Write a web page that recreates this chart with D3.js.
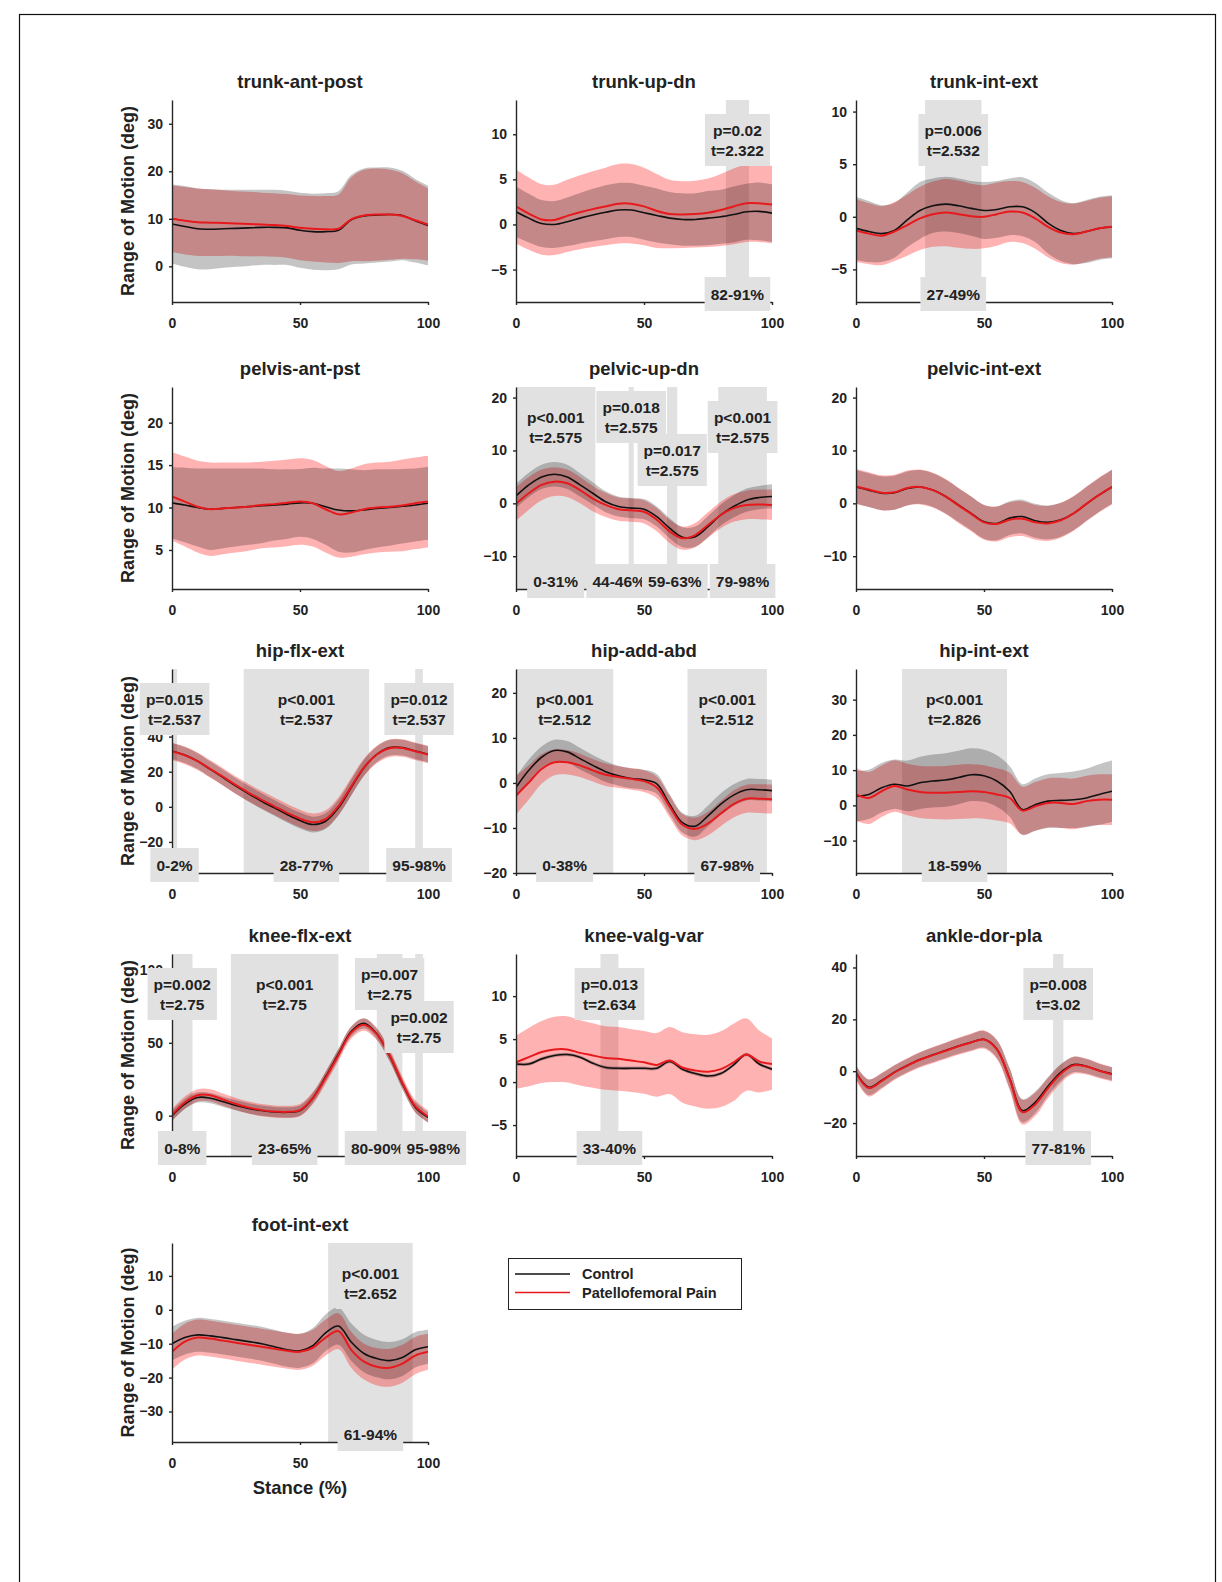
<!DOCTYPE html>
<html>
<head>
<meta charset="utf-8">
<script src="https://cdn.jsdelivr.net/npm/d3@7"></script>
<style>
body { margin: 0; background: #fff; }
svg text { font-family: "Liberation Sans", Arial, Helvetica, sans-serif; font-weight: bold; fill: #222; }
</style>
</head>
<body>
<script>
// stance (% of stance phase), sampled every 5%
var stance = [0,5,10,15,20,25,30,35,40,45,50,55,60,65,70,75,80,85,90,95,100];
var xTicks = [0, 50, 100];

// trunk-ant-post
var trunkApCtrl   = [8.9,8.4,7.9,7.8,7.9,8.0,8.1,8.2,8.2,8.1,7.6,7.3,7.3,7.6,9.8,10.6,10.8,10.9,10.7,9.6,8.6];
var trunkApCtrlSd = [8.3,8.5,8.5,8.4,8.2,8.1,8.0,7.9,7.9,7.8,7.9,8.0,8.1,8.2,9.4,10.0,10.0,9.9,9.4,8.8,8.4];
var trunkApPfp    = [10.0,9.6,9.3,9.2,9.1,9.0,8.9,8.8,8.7,8.5,8.1,7.9,7.8,7.9,9.9,10.7,10.9,10.9,10.6,9.7,8.8];
var trunkApPfpSd  = [7.0,7.1,7.1,7.0,6.9,6.8,6.8,6.7,6.7,6.7,6.8,6.9,7.0,7.2,8.8,9.6,9.7,9.5,9.0,8.2,7.6];

// trunk-up-dn
var trunkUdCtrl   = [1.4,0.7,0.1,0.0,0.3,0.7,1.05,1.35,1.6,1.6,1.3,1.0,0.7,0.55,0.55,0.7,0.85,1.1,1.4,1.45,1.25];
var trunkUdCtrlSd = [2.8,2.7,2.6,2.6,2.7,2.8,2.9,3.0,3.0,3.0,3.0,3.0,2.9,2.9,2.9,3.0,3.0,3.1,3.1,3.2,3.2];
var trunkUdPfp    = [2.0,1.2,0.55,0.5,0.95,1.35,1.7,2.0,2.3,2.3,2.0,1.5,1.15,1.1,1.15,1.3,1.6,2.0,2.35,2.35,2.2];
var trunkUdPfpSd  = [4.1,4.0,3.9,3.9,4.0,4.1,4.2,4.3,4.4,4.4,4.3,4.1,3.8,3.7,3.7,3.8,4.0,4.2,4.3,4.3,4.3];
var trunkUdSig = [{from: 82, to: 91, p: "p=0.02", t: "t=2.322"}];

// trunk-int-ext
var trunkIeCtrl   = [-1.1,-1.4,-1.6,-1.3,-0.3,0.6,1.05,1.2,1.05,0.8,0.6,0.7,0.95,0.95,0.4,-0.6,-1.3,-1.6,-1.4,-1.1,-0.95];
var trunkIeCtrlSd = [3.0,2.9,2.7,2.6,2.6,2.7,2.6,2.6,2.6,2.6,2.7,2.7,2.7,2.8,2.8,2.9,2.9,2.9,3.0,3.0,3.0];
var trunkIePfp    = [-1.3,-1.6,-1.8,-1.4,-0.8,-0.15,0.25,0.4,0.25,0.05,0.0,0.25,0.5,0.4,-0.15,-0.95,-1.5,-1.65,-1.4,-1.1,-0.95];
var trunkIePfpSd  = [3.0,2.9,2.8,2.8,2.9,3.0,3.1,3.2,3.2,3.1,3.0,3.0,2.9,2.9,2.9,2.9,2.9,2.9,2.9,2.9,2.9];
var trunkIeSig = [{from: 27, to: 49, p: "p=0.006", t: "t=2.532"}];

// pelvis-ant-pst
var pelvApCtrl   = [10.55,10.3,10.0,9.8,9.9,10.0,10.1,10.2,10.3,10.4,10.55,10.5,10.1,9.7,9.6,9.7,9.9,10.0,10.15,10.3,10.5];
var pelvApCtrlSd = [4.2,4.4,4.6,4.8,4.7,4.6,4.5,4.4,4.2,4.1,4.0,4.2,4.5,4.9,4.9,4.7,4.6,4.5,4.4,4.3,4.3];
var pelvApPfp    = [11.3,10.7,10.1,9.8,9.9,10.0,10.1,10.3,10.4,10.55,10.7,10.5,9.8,9.2,9.4,9.8,10.0,10.1,10.25,10.5,10.7];
var pelvApPfpSd  = [5.2,5.3,5.4,5.5,5.4,5.3,5.2,5.1,5.1,5.1,5.1,5.1,5.1,5.1,5.2,5.3,5.3,5.3,5.4,5.4,5.4];

// pelvic-up-dn
var pelvUdCtrl   = [1.4,3.5,5.0,5.5,5.0,3.5,1.9,0.3,-0.6,-0.9,-1.1,-2.5,-4.7,-6.4,-6.3,-4.4,-2.2,-0.6,0.6,1.1,1.3];
var pelvUdCtrlSd = [2.3,2.3,2.3,2.3,2.3,2.2,2.1,2.0,1.9,1.9,1.9,1.9,1.9,1.9,1.9,2.0,2.0,2.1,2.2,2.2,2.3];
var pelvUdPfp    = [-0.1,1.9,3.5,4.1,3.8,2.5,0.9,-0.3,-1.1,-1.3,-1.6,-3.1,-5.3,-6.6,-6.0,-4.1,-2.2,-0.9,-0.3,-0.2,-0.3];
var pelvUdPfpSd  = [3.2,3.1,2.9,2.7,2.6,2.5,2.4,2.3,2.2,2.2,2.2,2.2,2.2,2.2,2.3,2.4,2.5,2.6,2.7,2.8,2.9];
var pelvUdSig = [
  {from: 0, to: 31, p: "p<0.001", t: "t=2.575"},
  {from: 44, to: 46, p: "p=0.018", t: "t=2.575"},
  {from: 59, to: 63, p: "p=0.017", t: "t=2.575"},
  {from: 79, to: 98, p: "p<0.001", t: "t=2.575"}
];

// pelvic-int-ext
var pelvIeCtrl   = [3.1,2.5,1.9,2.0,2.8,3.1,2.5,1.3,-0.3,-1.9,-3.5,-3.8,-2.8,-2.5,-3.3,-3.6,-3.1,-1.9,-0.1,1.6,3.1];
var pelvIeCtrlSd = [3.2,3.2,3.2,3.2,3.2,3.2,3.2,3.2,3.2,3.2,3.2,3.2,3.2,3.2,3.2,3.2,3.2,3.2,3.2,3.2,3.2];
var pelvIePfp    = [3.2,2.6,2.0,2.1,2.9,3.1,2.5,1.3,-0.4,-2.0,-3.6,-3.9,-3.1,-2.9,-3.6,-3.8,-3.2,-1.9,-0.1,1.6,3.1];
var pelvIePfpSd  = [3.3,3.3,3.3,3.3,3.3,3.3,3.3,3.3,3.3,3.3,3.3,3.3,3.3,3.3,3.3,3.3,3.3,3.3,3.3,3.3,3.3];

// hip-flx-ext
var hipFeCtrl   = [31.8,29.5,26.0,21.3,16.6,11.8,7.4,3.2,-0.6,-4.4,-7.8,-10.1,-8.2,-0.6,10.9,22.3,29.9,33.7,33.7,31.8,29.9];
var hipFeCtrlSd = [4.5,4.5,4.5,4.5,4.5,4.5,4.5,4.5,4.5,4.5,4.5,4.5,4.5,4.5,4.5,4.5,4.5,4.5,4.5,4.5,4.5];
var hipFePfp    = [31.5,29.3,26.0,21.5,17.0,12.3,8.0,4.0,0.3,-3.4,-6.7,-8.8,-7.0,0.3,11.5,22.5,29.8,33.4,33.5,31.6,29.8];
var hipFePfpSd  = [5.0,5.0,5.0,5.0,5.0,5.0,5.0,5.0,5.0,5.0,5.0,5.0,5.0,5.0,5.0,5.0,5.0,5.0,5.0,5.0,5.0];
var hipFeSig = [
  {from: 0, to: 2, p: "p=0.015", t: "t=2.537"},
  {from: 28, to: 77, p: "p<0.001", t: "t=2.537"},
  {from: 95, to: 98, p: "p=0.012", t: "t=2.537"}
];

// hip-add-abd
var hipAaCtrl   = [-1.0,2.8,5.7,7.2,6.9,5.4,3.9,2.5,1.6,1.0,0.7,-0.2,-4.7,-8.8,-9.6,-7.3,-4.7,-2.7,-1.5,-1.5,-1.7];
var hipAaCtrlSd = [2.4,2.4,2.4,2.4,2.4,2.4,2.3,2.3,2.2,2.2,2.2,2.2,2.2,2.2,2.3,2.3,2.4,2.4,2.4,2.4,2.4];
var hipAaPfp    = [-2.8,0.1,3.1,4.6,4.6,3.9,2.8,1.8,1.3,0.9,0.4,-1.0,-5.2,-9.3,-10.2,-9.0,-6.8,-4.7,-3.5,-3.5,-3.6];
var hipAaPfpSd  = [4.3,3.8,3.3,2.9,2.7,2.6,2.5,2.5,2.4,2.4,2.4,2.4,2.4,2.4,2.5,2.6,2.8,3.0,3.1,3.2,3.2];
var hipAaSig = [
  {from: 0, to: 38, p: "p<0.001", t: "t=2.512"},
  {from: 67, to: 98, p: "p<0.001", t: "t=2.512"}
];

// hip-int-ext
var hipIeCtrl   = [2.6,3.1,5.0,6.0,5.5,6.4,6.9,7.2,7.9,8.7,8.4,6.9,4.0,-1.2,0.2,1.2,1.4,1.6,2.1,3.1,4.0];
var hipIeCtrlSd = [7.2,7.0,7.0,7.0,7.2,7.4,7.5,7.6,7.6,7.5,7.4,7.3,7.2,7.2,7.4,7.6,7.8,8.0,8.3,8.6,8.7];
var hipIePfp    = [3.1,2.1,4.0,5.5,4.5,3.8,3.6,3.6,3.8,4.0,3.8,3.1,2.1,-1.5,-0.3,0.7,0.7,0.4,1.2,1.6,1.6];
var hipIePfpSd  = [7.5,7.4,7.3,7.3,7.3,7.4,7.5,7.6,7.7,7.7,7.6,7.4,7.2,6.8,6.9,7.0,7.1,7.2,7.2,7.2,7.2];
var hipIeSig = [{from: 18, to: 59, p: "p<0.001", t: "t=2.826"}];

// knee-flx-ext
var kneeFeCtrl   = [0,8,12.5,12,9.5,7,5,3.5,2.5,2.3,3.5,12,26.7,42.4,57.8,63.4,56.2,41,21.9,5.8,-1.2];
var kneeFeCtrlSd = [3.5,3.5,3.5,3.5,3.5,3.5,3.5,3.5,3.5,3.5,3.5,3.5,3.5,3.5,3.5,3.5,3.5,3.5,3.5,3.5,3.5];
var kneeFePfp    = [0.5,9,14,14,11,8,5.5,3.8,2.8,2.6,3.8,12,26,41.5,57,62.5,56,41.5,22.5,6.5,-0.5];
var kneeFePfpSd  = [4.2,4.2,4.2,4.2,4.2,4.2,4.2,4.2,4.2,4.2,4.2,4.2,4.2,4.2,4.2,4.2,4.2,4.2,4.2,4.2,4.2];
var kneeFeSig = [
  {from: 0, to: 8, p: "p=0.002", t: "t=2.75"},
  {from: 23, to: 65, p: "p<0.001", t: "t=2.75"},
  {from: 80, to: 90, p: "p=0.007", t: "t=2.75"},
  {from: 95, to: 98, p: "p=0.002", t: "t=2.75"}
];

// knee-valg-var
var kneeVvCtrl   = [2.1,2.1,2.7,3.1,3.2,2.9,2.2,1.7,1.6,1.6,1.6,1.6,2.4,1.5,1.0,0.7,1.0,2.0,3.2,2.1,1.5];
var kneeVvCtrlSd = [0.2,0.2,0.2,0.2,0.2,0.2,0.2,0.2,0.2,0.2,0.2,0.2,0.2,0.2,0.2,0.2,0.2,0.2,0.2,0.2,0.2];
var kneeVvPfp    = [2.3,2.9,3.5,3.8,3.8,3.4,3.1,2.8,2.7,2.5,2.3,2.0,2.5,1.7,1.35,1.2,1.5,2.3,3.2,2.4,2.1];
var kneeVvPfpSd  = [3.1,3.4,3.6,3.8,3.85,3.8,3.75,3.7,3.7,3.65,3.65,3.7,3.9,4.1,4.2,4.3,4.4,4.5,4.2,3.6,3.0];
var kneeVvSig = [{from: 33, to: 40, p: "p=0.013", t: "t=2.634"}];

// ankle-dor-pla
var ankleCtrl   = [-0.4,-6.2,-3.6,-0.4,2.2,4.5,6.3,8.0,9.7,11.2,12.3,8.6,-2.7,-15.2,-12.0,-5.8,-0.4,2.6,1.9,0.3,-1.0];
var ankleCtrlSd = [2.5,3.0,2.8,2.6,2.6,2.7,2.8,2.9,3.0,3.1,3.2,3.4,3.9,4.5,4.2,3.6,3.2,3.0,2.8,2.6,2.5];
var anklePfp    = [-0.6,-6.5,-3.8,-0.5,2.1,4.4,6.2,7.9,9.6,11.1,12.2,8.4,-3.0,-15.8,-12.8,-6.5,-1.0,2.3,1.8,0.2,-1.2];
var anklePfpSd  = [2.8,3.3,3.1,2.9,2.9,3.0,3.1,3.2,3.3,3.4,3.5,3.7,4.2,4.8,4.5,3.9,3.5,3.3,3.1,2.9,2.8];
var ankleSig = [{from: 77, to: 81, p: "p=0.008", t: "t=3.02"}];

// foot-int-ext
var footCtrl   = [-10.0,-8.2,-7.4,-7.7,-8.2,-8.8,-9.4,-10.0,-10.9,-11.8,-12.1,-10.6,-6.8,-4.8,-9.5,-12.9,-14.4,-15.0,-14.1,-11.8,-10.9];
var footCtrlSd = [5.0,5.0,5.0,5.0,5.0,5.0,5.0,5.0,5.0,5.0,5.0,5.2,5.4,5.5,5.5,5.5,5.5,5.5,5.4,5.2,5.0];
var footPfp    = [-12.4,-9.4,-8.2,-8.5,-9.1,-9.7,-10.3,-10.9,-11.5,-12.1,-12.4,-11.2,-8.2,-6.3,-11.8,-15.3,-16.8,-17.1,-15.9,-13.5,-12.4];
var footPfpSd  = [5.3,5.3,5.3,5.3,5.3,5.3,5.3,5.3,5.3,5.3,5.3,5.3,5.3,5.3,5.3,5.3,5.5,5.6,5.6,5.5,5.3];
var footSig = [{from: 61, to: 94, p: "p<0.001", t: "t=2.652"}];

var groupNames = ["Control", "Patellofemoral Pain"];

var panels = [
  {name: "trunk-ant-post", ctrl: trunkApCtrl, ctrlSd: trunkApCtrlSd, pfp: trunkApPfp, pfpSd: trunkApPfpSd, yLim: [-7.5, 35], yTicks: [0, 10, 20, 30], sig: []},
  {name: "trunk-up-dn", ctrl: trunkUdCtrl, ctrlSd: trunkUdCtrlSd, pfp: trunkUdPfp, pfpSd: trunkUdPfpSd, yLim: [-8.6, 13.8], yTicks: [-5, 0, 5, 10], sig: trunkUdSig},
  {name: "trunk-int-ext", ctrl: trunkIeCtrl, ctrlSd: trunkIeCtrlSd, pfp: trunkIePfp, pfpSd: trunkIePfpSd, yLim: [-8.1, 11.1], yTicks: [-5, 0, 5, 10], sig: trunkIeSig},
  {name: "pelvis-ant-pst", ctrl: pelvApCtrl, ctrlSd: pelvApCtrlSd, pfp: pelvApPfp, pfpSd: pelvApPfpSd, yLim: [0.4, 24.2], yTicks: [5, 10, 15, 20], sig: []},
  {name: "pelvic-up-dn", ctrl: pelvUdCtrl, ctrlSd: pelvUdCtrlSd, pfp: pelvUdPfp, pfpSd: pelvUdPfpSd, yLim: [-16.2, 22], yTicks: [-10, 0, 10, 20], sig: pelvUdSig},
  {name: "pelvic-int-ext", ctrl: pelvIeCtrl, ctrlSd: pelvIeCtrlSd, pfp: pelvIePfp, pfpSd: pelvIePfpSd, yLim: [-16.2, 22], yTicks: [-10, 0, 10, 20], sig: []},
  {name: "hip-flx-ext", ctrl: hipFeCtrl, ctrlSd: hipFeCtrlSd, pfp: hipFePfp, pfpSd: hipFePfpSd, yLim: [-37.7, 78.5], yTicks: [-20, 0, 20, 40], sig: hipFeSig},
  {name: "hip-add-abd", ctrl: hipAaCtrl, ctrlSd: hipAaCtrlSd, pfp: hipAaPfp, pfpSd: hipAaPfpSd, yLim: [-20, 25.3], yTicks: [-20, -10, 0, 10, 20], sig: hipAaSig},
  {name: "hip-int-ext", ctrl: hipIeCtrl, ctrlSd: hipIeCtrlSd, pfp: hipIePfp, pfpSd: hipIePfpSd, yLim: [-19.2, 38.7], yTicks: [-10, 0, 10, 20, 30], sig: hipIeSig},
  {name: "knee-flx-ext", ctrl: kneeFeCtrl, ctrlSd: kneeFeCtrlSd, pfp: kneeFePfp, pfpSd: kneeFePfpSd, yLim: [-27.7, 111], yTicks: [0, 50, 100], sig: kneeFeSig},
  {name: "knee-valg-var", ctrl: kneeVvCtrl, ctrlSd: kneeVvCtrlSd, pfp: kneeVvPfp, pfpSd: kneeVvPfpSd, yLim: [-8.6, 14.9], yTicks: [-5, 0, 5, 10], sig: kneeVvSig},
  {name: "ankle-dor-pla", ctrl: ankleCtrl, ctrlSd: ankleCtrlSd, pfp: anklePfp, pfpSd: anklePfpSd, yLim: [-32.7, 45.2], yTicks: [-20, 0, 20, 40], sig: ankleSig},
  {name: "foot-int-ext", ctrl: footCtrl, ctrlSd: footCtrlSd, pfp: footPfp, pfpSd: footPfpSd, yLim: [-39, 19.7], yTicks: [-30, -20, -10, 0, 10], sig: footSig}
];

// layout (px)
var colX = [172, 516, 856], plotW = 256;
var rowTop = [100, 387, 669, 954, 1243];
var rowBot = [302, 589, 873, 1156, 1442];
var sigGray = "#e1e1e1";
var axisColor = "#262626";
var redCol = "#e8191c";

var svg = d3.select("body").append("svg")
    .attr("width", 1222)
    .attr("height", 1582);

svg.append("rect")
    .attr("width", 1222).attr("height", 1582).attr("fill", "#fff");

// frame round the figure
svg.append("rect")
    .attr("x", 19.5).attr("y", 14.5)
    .attr("width", 1196).attr("height", 1700)
    .attr("fill", "none").attr("stroke", "#111").attr("stroke-width", 1.2);

var defs = svg.append("defs");

panels.forEach(function(p, i) {
  var col = i % 3, row = Math.floor(i / 3);
  var top = rowTop[row], bot = rowBot[row];
  var x = d3.scaleLinear().domain([0, 100]).range([colX[col], colX[col] + plotW]);
  var y = d3.scaleLinear().domain(p.yLim).range([bot, top]);
  var g = svg.append("g").attr("class", "panel");

  defs.append("clipPath").attr("id", "clip" + i)
    .append("rect")
    .attr("x", x(0)).attr("y", top)
    .attr("width", plotW).attr("height", bot - top);

  // significant regions
  g.selectAll("rect.sig")
    .data(p.sig)
    .enter().append("rect")
    .attr("class", "sig")
    .attr("x", function(d) { return x(d.from); })
    .attr("width", function(d) { return x(d.to) - x(d.from); })
    .attr("y", top)
    .attr("height", bot - top)
    .attr("fill", sigGray);

  var plot = g.append("g").attr("clip-path", "url(#clip" + i + ")");

  function band(m, s) {
    return d3.area()
      .x(function(d, j) { return x(stance[j]); })
      .y0(function(d, j) { return y(m[j] - s[j]); })
      .y1(function(d, j) { return y(m[j] + s[j]); })
      .curve(d3.curveCatmullRom.alpha(0.5))(m);
  }
  var line = d3.line()
    .x(function(d, j) { return x(stance[j]); })
    .y(function(d) { return y(d); })
    .curve(d3.curveCatmullRom.alpha(0.5));

  plot.append("path").attr("d", band(p.pfp, p.pfpSd))
    .attr("fill", "#ff0000").attr("fill-opacity", 0.3);
  plot.append("path").attr("d", band(p.ctrl, p.ctrlSd))
    .attr("fill", "#000").attr("fill-opacity", 0.23);
  plot.append("path").datum(p.ctrl).attr("d", line)
    .attr("fill", "none").attr("stroke", "#111").attr("stroke-width", 1.6);
  plot.append("path").datum(p.pfp).attr("d", line)
    .attr("fill", "none").attr("stroke", redCol).attr("stroke-width", 2);

  // axes
  var ya = g.append("g")
    .attr("transform", "translate(" + x(0) + ",0)")
    .call(d3.axisLeft(y).tickValues(p.yTicks).tickSize(3).tickSizeOuter(0).tickPadding(6));
  var xa = g.append("g")
    .attr("transform", "translate(0," + bot + ")")
    .call(d3.axisBottom(x).tickValues(xTicks).tickSize(3).tickSizeOuter(0).tickPadding(13));
  [ya, xa].forEach(function(a) {
    a.selectAll("path, line").attr("stroke", axisColor).attr("stroke-width", 1.4);
    a.selectAll("text").style("font-size", "14px").attr("fill", axisColor);
  });

  // title
  g.append("text")
    .attr("x", x(50)).attr("y", top - 12)
    .attr("text-anchor", "middle")
    .style("font-size", "18.5px")
    .text(p.name);

  if (col === 0) {
    g.append("text")
      .attr("transform", "translate(128," + ((top + bot) / 2) + ") rotate(-90)")
      .attr("text-anchor", "middle")
      .attr("dy", "0.35em")
      .style("font-size", "18px")
      .text("Range of Motion (deg)");
  }

  // p / t boxes at the top of each region; neighbours that collide are staggered
  var prev = null;
  p.sig.forEach(function(s) {
    var cx = x((s.from + s.to) / 2), cy = top + 40;
    var bg = g.append("g");
    var r = bg.append("rect").attr("fill", sigGray);
    var t = bg.append("text").attr("text-anchor", "middle").style("font-size", "15.5px");
    t.append("tspan").attr("x", cx).attr("y", cy - 4.5).text(s.p);
    t.append("tspan").attr("x", cx).attr("y", cy + 15.5).text(s.t);
    var w = t.node().getBBox().width + 12;
    r.attr("x", cx - w / 2).attr("width", w).attr("y", cy - 26).attr("height", 52);
    if (prev && cx - w / 2 < prev.right) {
      prev.g.attr("transform", "translate(0,-10)");
      bg.attr("transform", "translate(0,33)");
    }
    prev = {g: bg, right: cx + w / 2};
  });

  // range boxes at the bottom; a colliding pair is pushed apart
  var prevB = null;
  p.sig.forEach(function(s) {
    var cx = x((s.from + s.to) / 2), cy = bot - 8;
    var bg = g.append("g");
    var r = bg.append("rect").attr("fill", sigGray);
    var t = bg.append("text").attr("text-anchor", "middle").style("font-size", "15.5px")
      .attr("x", cx).attr("y", cy + 5.5)
      .text(s.from + "-" + s.to + "%");
    var w = t.node().getBBox().width + 12;
    r.attr("x", cx - w / 2).attr("width", w).attr("y", cy - 17).attr("height", 34);
    var dx = 0;
    if (prevB && cx - w / 2 < prevB.right) {
      prevB.g.attr("transform", "translate(-12,0)");
      var rest = prevB.right - 12 - (cx - w / 2);
      dx = Math.max(0, rest - 10);
      bg.attr("transform", "translate(" + dx + ",0)");
    }
    prevB = {g: bg, right: cx + w / 2 + dx};
  });

  if (row === 4 && col === 0) {
    g.append("text")
      .attr("x", x(50)).attr("y", bot + 52)
      .attr("text-anchor", "middle")
      .style("font-size", "18.5px")
      .text("Stance (%)");
  }
});

// legend
var leg = svg.append("g").attr("transform", "translate(508,1258)");
leg.append("rect")
  .attr("x", 0.5).attr("y", 0.5).attr("width", 233).attr("height", 51)
  .attr("fill", "#fff").attr("stroke", "#222").attr("stroke-width", 1);
groupNames.forEach(function(n, k) {
  var ly = 16 + k * 18.5;
  leg.append("line")
    .attr("x1", 7).attr("x2", 62).attr("y1", ly).attr("y2", ly)
    .attr("stroke", k === 0 ? "#111" : redCol).attr("stroke-width", 1.6);
  leg.append("text")
    .attr("x", 74).attr("y", ly + 5)
    .style("font-size", "14.5px")
    .text(n);
});
</script>
</body>
</html>
